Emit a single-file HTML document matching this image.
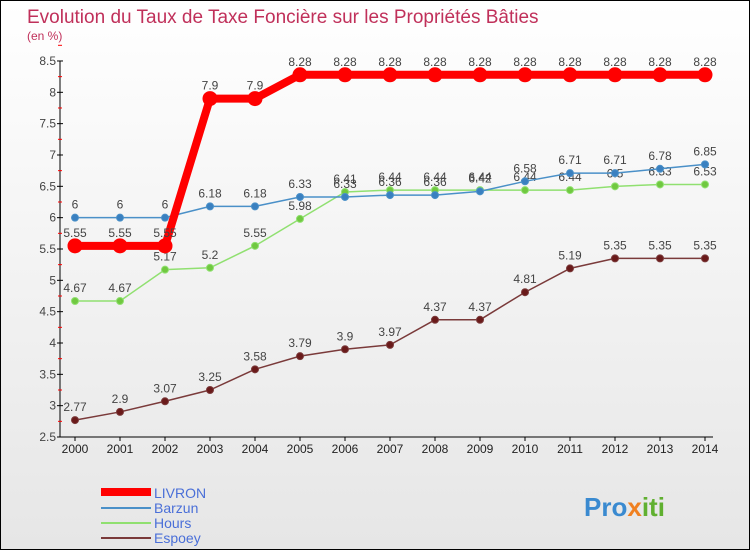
<!DOCTYPE html>
<html><head><meta charset="utf-8"><style>
body{margin:0;}
#c{width:748px;height:548px;border:1px solid #000;background:linear-gradient(#fff,#e6e6e6);position:relative;overflow:hidden;font-family:"Liberation Sans",sans-serif;}
</style></head><body>
<div id="c">
<svg id="s" width="748" height="548" xmlns="http://www.w3.org/2000/svg">
<text x="26" y="22" font-size="19" fill="#c0305a">Evolution du Taux de Taxe Foncière sur les Propriétés Bâties</text>
<text x="26" y="39" font-size="12" fill="#c0305a">(en %)</text>
<g id="axes"></g><g id="series"></g>
<g>
<line x1="100" y1="491" x2="150" y2="491" stroke="#f00" stroke-width="8"/>
<text x="153" y="497" font-size="14" fill="#4a6fd8">LIVRON</text>
<line x1="100" y1="507" x2="150" y2="507" stroke="#4a90c8" stroke-width="2"/>
<text x="153" y="512" font-size="14" fill="#4a6fd8">Barzun</text>
<line x1="100" y1="522" x2="150" y2="522" stroke="#90e070" stroke-width="2"/>
<text x="153" y="527" font-size="14" fill="#4a6fd8">Hours</text>
<line x1="100" y1="537" x2="150" y2="537" stroke="#7a3a3a" stroke-width="2"/>
<text x="153" y="542" font-size="14" fill="#4a6fd8">Espoey</text>
</g>
<text x="583" y="515" font-size="26" font-weight="bold" fill="#3a8ad0">Pro<tspan fill="#f08020">x</tspan><tspan fill="#60b030">iti</tspan></text>
</svg></div>
<script>
const years=[2000,2001,2002,2003,2004,2005,2006,2007,2008,2009,2010,2011,2012,2013,2014];
const livron=[5.55,5.55,5.55,7.9,7.9,8.28,8.28,8.28,8.28,8.28,8.28,8.28,8.28,8.28,8.28];
const barzun=[6,6,6,6.18,6.18,6.33,6.33,6.36,6.36,6.42,6.58,6.71,6.71,6.78,6.85];
const hours=[4.67,4.67,5.17,5.2,5.55,5.98,6.41,6.44,6.44,6.44,6.44,6.44,6.5,6.53,6.53];
const espoey=[2.77,2.9,3.07,3.25,3.58,3.79,3.9,3.97,4.37,4.37,4.81,5.19,5.35,5.35,5.35];
const yTicks=[2.5,3,3.5,4,4.5,5,5.5,6,6.5,7,7.5,8,8.5];
const NS="http://www.w3.org/2000/svg";
const X=i=>74+i*45, Y=v=>436-(v-2.5)*62.67;
function mk(t,a,p){const e=document.createElementNS(NS,t);for(const k in a)e.setAttribute(k,a[k]);p.appendChild(e);return e;}
const ax=document.getElementById('axes'), sg=document.getElementById('series');
const yl=mk('line',{x1:59,y1:Y(8.5),x2:59,y2:Y(2.5),stroke:'#000'},ax);


const xl=mk('line',{x1:59,y1:Y(2.5),x2:712,y2:Y(2.5),stroke:'#000'},ax);


yTicks.forEach(v=>{
 mk('line',{x1:56,y1:Y(v),x2:62,y2:Y(v),stroke:'#000'},ax);
 mk('line',{x1:57,y1:Y(v+0.25),x2:61,y2:Y(v+0.25),stroke:'#f00'},ax);
 const t=mk('text',{x:55,y:Y(v)+4,'font-size':12,fill:'#444','text-anchor':'end'},ax);t.textContent=v;
 
 
});
years.forEach((y,i)=>{
 mk('line',{x1:X(i),y1:Y(2.5),x2:X(i),y2:Y(2.5)+4,stroke:'#000'},ax);
 const t=mk('text',{x:X(i),y:Y(2.5)+16,'font-size':12,fill:'#222','text-anchor':'middle'},ax);t.textContent=y;
 
 
});
function series(d,col,w,r,dot,name){
 const g=mk('g',{},sg);
 
 
 mk('polyline',{points:d.map((v,i)=>X(i)+','+Y(v)).join(' '),fill:'none',stroke:col,'stroke-width':w,'stroke-linejoin':'round'},g);
 d.forEach((v,i)=>{
  const c=mk('circle',{cx:X(i),cy:Y(v),r:r,fill:dot,stroke:col,'stroke-width':1},g);
  
  
  const t=mk('text',{x:X(i),y:Y(v)-9,'font-size':12,fill:'#444','text-anchor':'middle'},g);t.textContent=v;
  
  
 });
}
series(espoey,'#7a3a3a',1.5,3.5,'#6a1a1a','espoey');
series(hours,'#90e070',1.5,3.5,'#70c840','hours');
series(barzun,'#4a90c8',1.5,3.5,'#3a80c0','barzun');
series(livron,'#f00',8,7,'#f00','livron');
</script>
</body></html>
